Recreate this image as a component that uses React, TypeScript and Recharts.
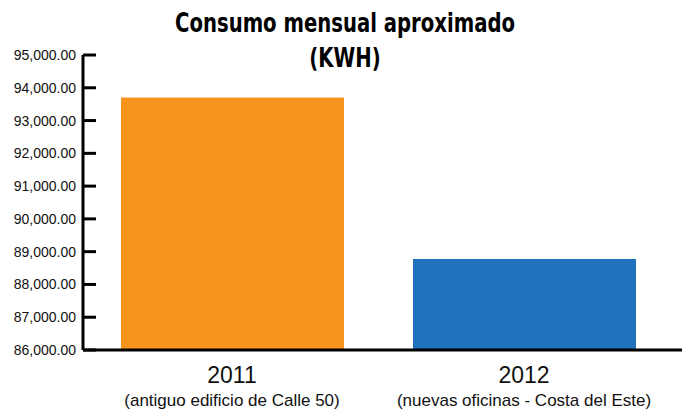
import { BarChart, Bar, Cell, XAxis, YAxis } from "recharts";

const YEARS = ["2011", "2012"];
const PLACES = ["(antiguo edificio de Calle 50)", "(nuevas oficinas - Costa del Este)"];
const KWH = [93700, 88780];
const BAR_COLORS = ["#F7941E", "#1F73BC"];
const Y_TICKS = [86000, 87000, 88000, 89000, 90000, 91000, 92000, 93000, 94000, 95000];

const data = YEARS.map((year, i) => ({ year, place: PLACES[i], kwh: KWH[i] }));

const FONT = "'Liberation Sans', Arial, sans-serif";
const fmt = (v: number) =>
  v.toLocaleString("en-US", { minimumFractionDigits: 2, maximumFractionDigits: 2 });

function YTick({ x, y, payload }: any) {
  return (
    <g>
      <line x1={x} x2={x + 13} y1={y} y2={y} stroke="#000" strokeWidth={3} />
      <text x={x - 7} y={y} dy={5} textAnchor="end" fontSize={14} fontFamily={FONT} fill="#111">
        {fmt(payload.value)}
      </text>
    </g>
  );
}

function XTick({ x, y, payload, index }: any) {
  return (
    <g>
      <text x={x} y={y + 33} textAnchor="middle" fontSize={23} fontFamily={FONT} fill="#111">
        {payload.value}
      </text>
      <text x={x} y={y + 56} textAnchor="middle" fontSize={17} fontFamily={FONT} fill="#111">
        {PLACES[index]}
      </text>
    </g>
  );
}

export default function App() {
  return (
    <div style={{ position: "relative", width: 682, height: 403 }}>
      <div
        style={{
          position: "absolute",
          left: 0,
          top: 0,
          width: 674,
          textAlign: "center",
          fontFamily: "'DejaVu Sans Condensed', 'DejaVu Sans', sans-serif",
          fontWeight: "bold",
          fontSize: 26,
          lineHeight: "35px",
          color: "#000",
          marginTop: -2,
          transform: "scaleX(0.84)",
          transformOrigin: "337px 0",
        }}
      >
        Consumo mensual aproximado
        <br />
        (KWH)
      </div>
      <BarChart
        width={682}
        height={403}
        data={data}
        margin={{ top: 47, right: 7, bottom: 6, left: 0 }}
      >
        <YAxis
          domain={[86000, 95000]}
          ticks={Y_TICKS}
          width={75}
          tickSize={0}
          tickMargin={0}
          tickLine={false}
          axisLine={{ stroke: "#000", strokeWidth: 3 }}
          tick={<YTick />}
          allowDataOverflow
        />
        <XAxis
          dataKey="year"
          height={55}
          padding={{ left: 3, right: 13 }}
          tickSize={0}
          tickMargin={0}
          tickLine={false}
          axisLine={{ stroke: "#000", strokeWidth: 3 }}
          tick={<XTick />}
          interval={0}
        />
        <Bar dataKey="kwh" barSize={223} isAnimationActive={false}>
          {data.map((d, i) => (
            <Cell key={d.year} fill={BAR_COLORS[i]} />
          ))}
        </Bar>
      </BarChart>
    </div>
  );
}
